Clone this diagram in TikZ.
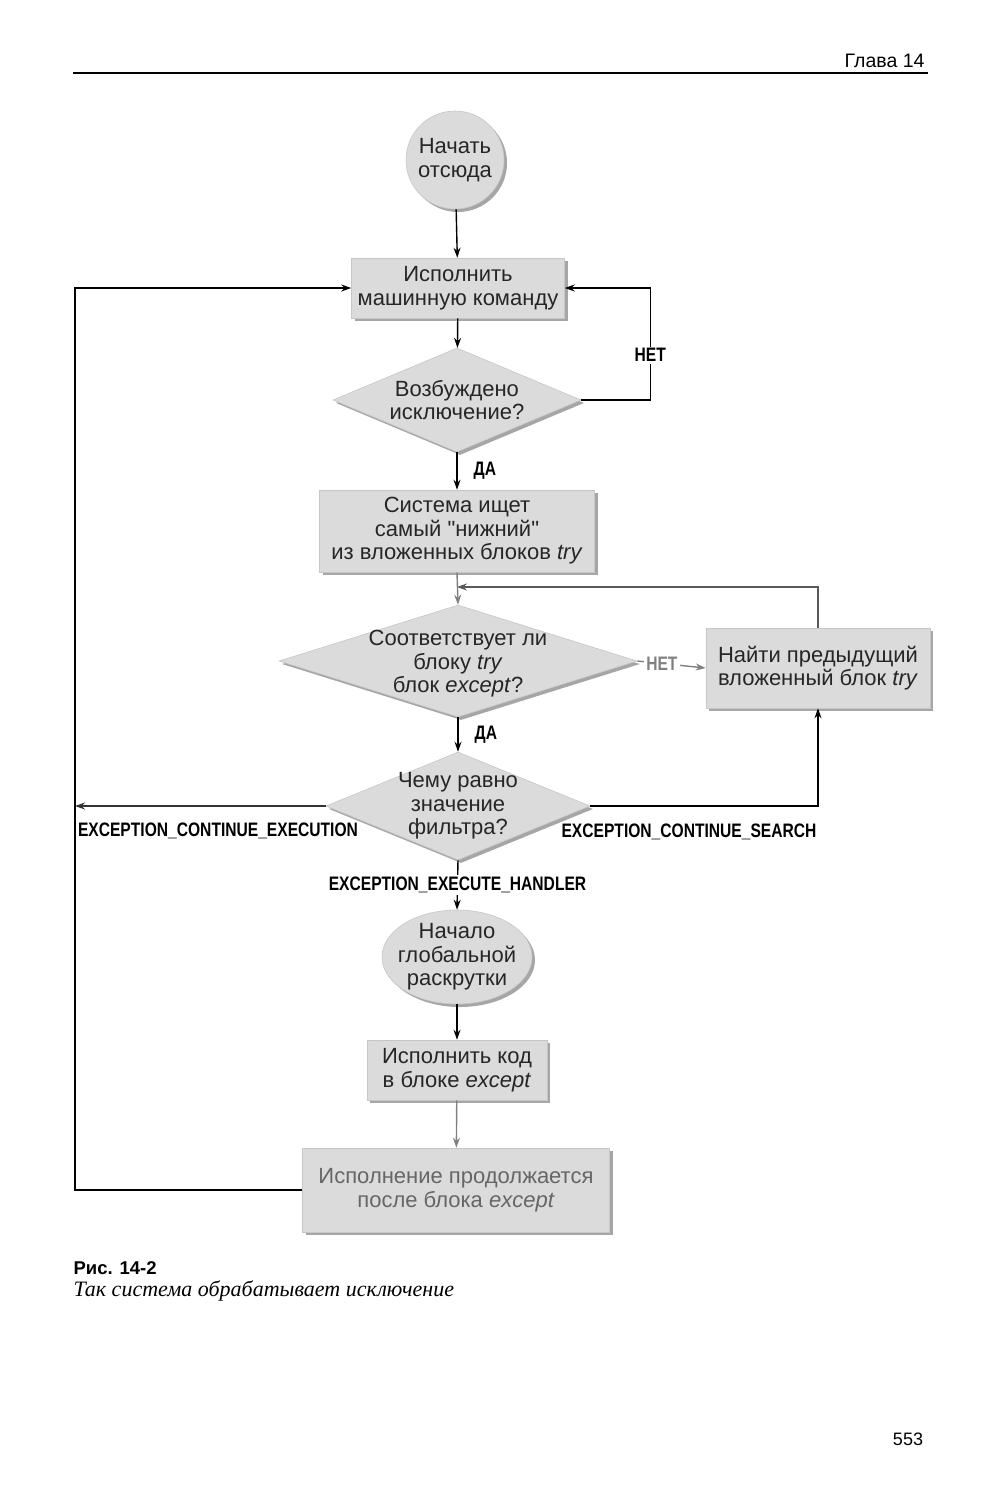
\documentclass[tikz,border=0pt]{standalone}
\usepackage{fontspec}
\setmainfont{Liberation Sans}
\newfontfamily\narrowfont[FakeStretch=0.8]{Liberation Sans}
\newfontfamily\capfont{Liberation Serif}
\usetikzlibrary{arrows.meta,positioning,calc,shapes.geometric,shadows}

\tikzset{
  shade/.style={fill=gray!28, draw=gray!45, line width=0.6pt, text=black!85,
    drop shadow={shadow xshift=3pt, shadow yshift=-3pt, fill=gray!70, opacity=1}},
  blk/.style={shade, rectangle, align=center, inner sep=2pt, font=\fontsize{22}{23.5}\selectfont},
  rnd/.style={shade, ellipse, align=center, inner sep=-7pt, font=\fontsize{22}{23.5}\selectfont},
  dec/.style={shade, diamond, inner sep=0pt},
  dectxt/.style={align=center, text=black!85, font=\fontsize{22}{23.5}\selectfont},
  arr/.style={-{Stealth[length=10pt,width=7pt]}, line width=1.4pt},
  lbl/.style={font=\fontsize{19.5}{19.5}\narrowfont\bfseries, inner sep=2pt},
}

\begin{document}
\begin{tikzpicture}[x=1pt, y=-1pt]
\useasboundingbox (0,0) rectangle (1005,1500);

% page head
\node[anchor=east, font=\fontsize{19.5}{19.5}\selectfont] (chap) at (928,61) {Глава 14};
\draw[line width=2pt] (73,73) -- (928,73);

% flow blocks
\node[rnd, minimum width=98, minimum height=98] (start) at (455,160) {Начать\\отсюда};
\node[blk, minimum width=213, minimum height=60] (exec) at (458,288) {Исполнить\\машинную команду};
\node[dec, minimum width=248, minimum height=104,
  label={[dectxt]center:{Возбуждено\\исключение?}}] (exc) at (457,400) {};
\node[blk, minimum width=275, minimum height=82] (search) at (457,531)
  {Система ищет\\самый \textquotedbl нижний\textquotedbl\\из вложенных блоков \textit{try}};
\node[dec, minimum width=358, minimum height=112,
  label={[dectxt, yshift=-3pt]center:{Соответствует ли\\блоку \textit{try}\\блок \textit{except}?}}] (match) at (458,661) {};
\node[blk, minimum width=224, minimum height=80] (prev) at (818,668)
  {Найти предыдущий\\вложенный блок \textit{try}};
\node[dec, minimum width=264, minimum height=108,
  label={[dectxt]center:{Чему равно\\значение\\фильтра?}}] (filt) at (458,806) {};
\node[rnd, minimum width=150, minimum height=94] (unwind) at (457,957) {Начало\\глобальной\\раскрутки};
\node[blk, minimum width=180, minimum height=60] (run) at (457,1070) {Исполнить код\\в блоке \textit{except}};
\node[blk, minimum width=307, minimum height=84, text=black!60] (cont) at (456,1190)
  {Исполнение продолжается\\после блока \textit{except}};

\coordinate (rail) at (75,0);
\coordinate (merge) at (457,587);

% connectors
\draw[arr] (start) -- (exec);
\draw[arr] (exec) -- (exc);
\draw[arr] (exc.east) -- ++(69,0) |- node[lbl, pos=0.2, fill=white] {НЕТ} (exec.east);
\draw[arr] (exc.south) -- node[lbl, right=14pt] {ДА} (search.north);
\draw[arr, gray] (search.south) -- (match.north);
\draw[arr, black!65] (prev.north) |- (merge);
\draw[arr, gray] (match.east) -- node[lbl, pos=0.36, fill=white, text=gray] {НЕТ} (prev.west);
\draw[arr] (match.south) -- node[lbl, right=14pt] {ДА} (filt.north);
\draw[arr, black!80] (filt.west) -- (filt.west -| rail);
\draw[arr] (filt.east) -| (prev.south);
\draw[arr] (filt.south) -- node[lbl, fill=white] {EXCEPTION\_EXECUTE\_HANDLER} (unwind.north);
\draw[arr] (unwind) -- (run);
\draw[arr, gray] (run) -- (cont);
\draw[arr] (cont.west) -- (cont.west -| rail) |- (exec.west);

\node[lbl] (cexec) at (218,831) {EXCEPTION\_CONTINUE\_EXECUTION};
\node[lbl] (csearch) at (689,832) {EXCEPTION\_CONTINUE\_SEARCH};

% caption
\node[anchor=west, font=\fontsize{18.5}{18.5}\bfseries] (fig) at (70,1268) {Рис. 14-2};
\node[anchor=west, font=\fontsize{22}{22}\capfont\itshape] (figcap) at (70,1291) {Так система обрабатывает исключение};
\node[font=\fontsize{18}{18}\selectfont] (pageno) at (908,1439) {553};
\end{tikzpicture}
\end{document}
